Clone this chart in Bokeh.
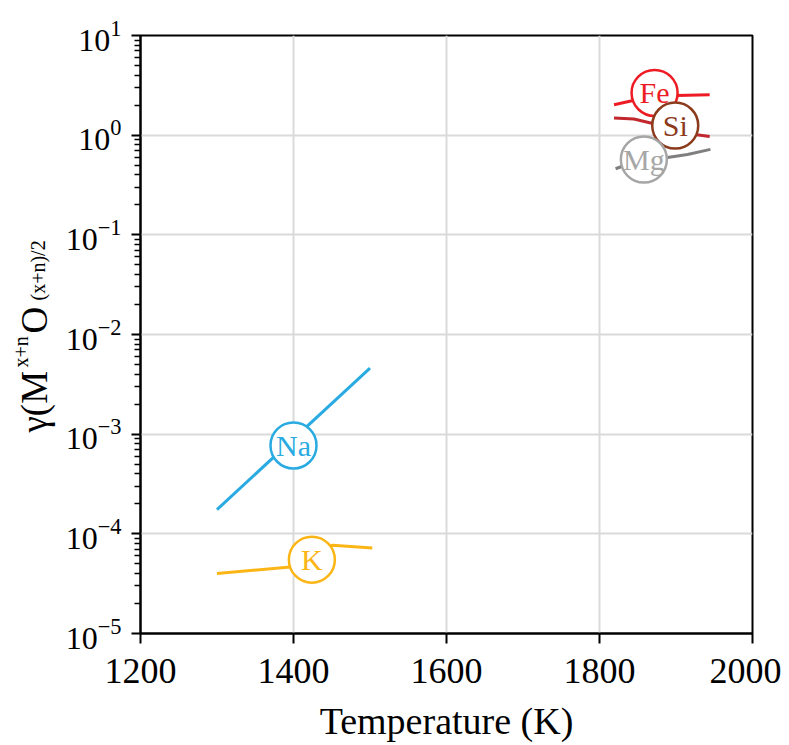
import math
from bokeh.plotting import figure
from bokeh.layouts import row
from bokeh.models import FixedTicker, Range1d, LogTickFormatter
from bokeh.core.properties import value
from bokeh.embed import file_html
from bokeh.resources import INLINE

# ---- data ----
na_T = [1300, 1500]
na_gamma = [1.75e-4, 4.6e-3]

k_T = [1300, 1396, 1451, 1503]
k_gamma = [4.0e-5, 4.65e-5, 7.7e-5, 7.2e-5]

fe_T = [1819, 1844, 1901, 1944]
fe_gamma = [2.02, 2.23, 2.50, 2.54]

si_T = [1819, 1845, 1871, 1908, 1944]
si_gamma = [1.49, 1.45, 1.30, 1.06, 0.97]

mg_T = [1821, 1829, 1891, 1915, 1945]
mg_gamma = [0.46, 0.485, 0.60, 0.64, 0.72]

label_names = ["Na", "K", "Fe", "Si", "Mg"]
label_T = [1400, 1424, 1872, 1899, 1858]
label_gamma = [7.7e-4, 5.5e-5, 2.65, 1.25, 0.57]
label_colors = ["#29abe2", "#fbb515", "#ed1c24", "#8b3a1c", "#a6a6a6"]

x_ticks = [1200, 1400, 1600, 1800, 2000]
y_ticks = [1e-5, 1e-4, 1e-3, 1e-2, 1e-1, 1e0, 1e1]
y_minor = [m * t for t in y_ticks[:-1] for m in range(2, 10)]

# y-axis title pieces: gamma(M^{x+n} O_{(x+n)/2}
ytitle_main = ["\u03b3(M", "O"]
ytitle_script = ["x+n", "(x+n)/2"]

FONT = "Liberation Serif"
LAB_W = 62
PAGE_H = 745

# ---- narrow strip holding the composed y-axis title ----
ylab = figure(frame_width=LAB_W, frame_height=PAGE_H, min_border=0,
              x_range=Range1d(0, LAB_W), y_range=Range1d(0, PAGE_H),
              x_axis_location=None, y_axis_location=None,
              toolbar_location=None, output_backend="svg")
ylab.grid.visible = False
ylab.outline_line_color = None
ylab.background_fill_color = "white"
ylab.border_fill_color = "white"

ylab.text(x=[34, 34], y=[PAGE_H - 397, PAGE_H - 298], text=ytitle_main,
          angle=math.pi / 2, text_align="left", text_baseline="alphabetic",
          text_font=value(FONT), text_font_size="37px", text_color="black")
ylab.text(x=[20, 37], y=[PAGE_H - 332, PAGE_H - 265], text=ytitle_script,
          angle=math.pi / 2, text_align="left", text_baseline="alphabetic",
          text_font=value(FONT), text_font_size="20px", text_color="black")

# ---- main plot ----
p = figure(frame_width=612, frame_height=598,
           x_range=Range1d(1200, 2000), y_range=Range1d(1e-5, 1e1),
           y_axis_type="log", output_backend="svg", toolbar_location=None,
           min_border_left=140 - LAB_W, min_border_top=35, min_border_right=29,
           min_border_bottom=110)

p.background_fill_color = "white"
p.border_fill_color = "white"
p.outline_line_color = "black"
p.outline_line_width = 2
p.outline_line_alpha = 1

xa = p.xaxis[0]
xa.ticker = FixedTicker(ticks=x_ticks)
xa.axis_label = "Temperature (K)"
xa.axis_label_text_font = FONT
xa.axis_label_text_font_size = "38px"
xa.axis_label_text_font_style = "normal"
xa.axis_label_text_color = "black"
xa.axis_label_standoff = 14
xa.major_label_text_font = FONT
xa.major_label_text_font_size = "36px"
xa.major_label_text_color = "black"
xa.major_label_standoff = 15
xa.major_tick_in = 0
xa.major_tick_out = 10
xa.major_tick_line_width = 2
xa.major_tick_line_color = "black"
xa.minor_tick_line_color = None
xa.axis_line_width = 2
xa.axis_line_color = "black"

ya = p.yaxis[0]
ya.ticker = FixedTicker(ticks=y_ticks, minor_ticks=y_minor)
ya.formatter = LogTickFormatter()
ya.major_label_text_font = FONT
ya.major_label_text_font_size = "32px"
ya.major_label_text_color = "black"
ya.major_label_standoff = 10
ya.major_tick_in = 0
ya.major_tick_out = 9
ya.major_tick_line_width = 2
ya.major_tick_line_color = "black"
ya.minor_tick_in = 0
ya.minor_tick_out = 6
ya.minor_tick_line_width = 1.5
ya.minor_tick_line_color = "black"
ya.axis_line_width = 2
ya.axis_line_color = "black"

p.xgrid.grid_line_color = "#dadada"
p.xgrid.grid_line_width = 2
p.ygrid.grid_line_color = "#dadada"
p.ygrid.grid_line_width = 2

p.line(na_T, na_gamma, line_color="#29abe2", line_width=3)
p.line(k_T, k_gamma, line_color="#fbb515", line_width=3)
p.line(fe_T, fe_gamma, line_color="#ed1c24", line_width=3)
p.line(si_T, si_gamma, line_color="#c1272d", line_width=3)
p.line(mg_T, mg_gamma, line_color="#7f7f7f", line_width=3)

p.scatter(label_T, label_gamma, marker="circle", size=46, fill_color="white",
          line_color=label_colors, line_width=2.5)
p.text(label_T, label_gamma, text=label_names, text_align="center",
       text_baseline="middle", text_font=value(FONT), text_font_size="30px",
       text_color=label_colors)

layout = row(ylab, p, spacing=0)
open("out.html", "w").write(file_html(layout, INLINE))
